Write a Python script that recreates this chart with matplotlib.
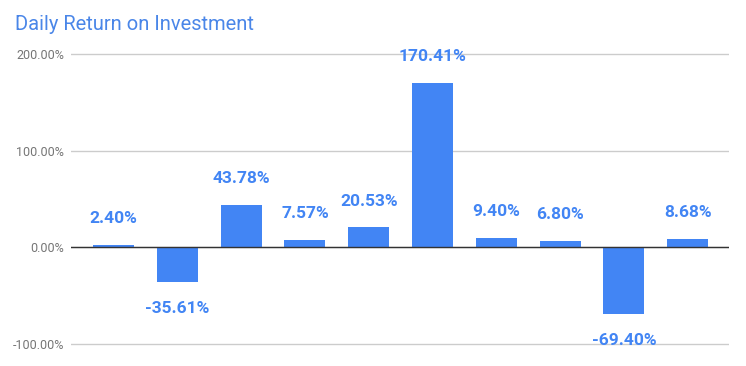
import numpy as np
import matplotlib.pyplot as plt
from matplotlib.ticker import FuncFormatter

plt.rcParams['font.family'] = ['Roboto', 'DejaVu Sans']

# daily returns, in percent
returns = [2.40, -35.61, 43.78, 7.57, 20.53, 170.41, 9.40, 6.80, -69.40, 8.68]
yticks = [-100, 0, 100, 200]

blue = '#4285f4'

fig = plt.figure(figsize=(7.46, 3.66), dpi=100)
# axes padded by 2 units each side so the edge gridlines are not clipped
ax = fig.add_axes([71/746, (366 - 345.94)/366, 658/746, 293.88/366])

x = np.arange(len(returns))
ax.bar(x, returns, width=0.64, color=blue, zorder=3)

for xi, v in zip(x, returns):
    off = 19 if v >= 0 else -19
    ax.annotate(f'{v:.2f}%', (xi, v), xytext=(0, off), textcoords='offset points',
                ha='center', va='center', color=blue, fontsize=12.5,
                fontweight='bold', zorder=4)

ax.set_xlim(-0.666, 9.647)
ax.set_ylim(-102, 202)
ax.set_yticks(yticks)
ax.yaxis.set_major_formatter(FuncFormatter(lambda v, p: f'{v:.2f}%'))
ax.tick_params(axis='y', length=0, pad=5, labelsize=9, labelcolor='#757575')
ax.set_xticks([])
ax.grid(axis='y', color='#cccccc', linewidth=1, zorder=0)
ax.axhline(0, color='#333333', linewidth=1, zorder=4)
for s in ax.spines.values():
    s.set_visible(False)

fig.text(15/746, 1 - 25/366, 'Daily Return on Investment', ha='left', va='center',
         fontsize=14.5, color='#4a86e8')

fig.savefig('out.png', dpi=100)
